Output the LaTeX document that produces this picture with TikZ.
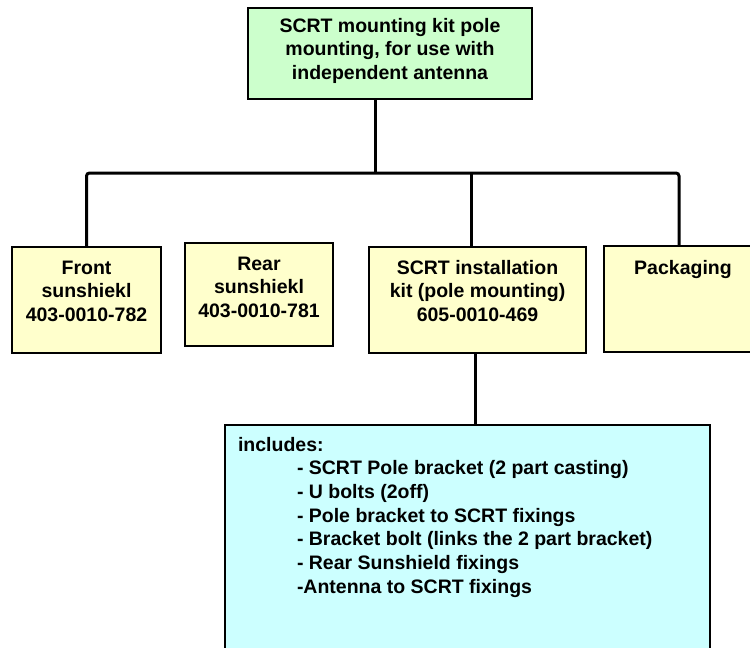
\documentclass[tikz,border=0pt]{standalone}
\usepackage{fontspec}
\setmainfont{Liberation Sans}
\definecolor{boxgreen}{RGB}{204,255,204}
\definecolor{boxyellow}{RGB}{255,255,204}
\definecolor{boxcyan}{RGB}{204,255,255}
\newcommand\cbx[4]{\parbox[t][#2][t]{#1}{\centering\rule{0pt}{#3}#4}}
\tikzset{
  box/.style={draw=black, line width=1.4pt, inner sep=0pt, outer sep=0pt, anchor=north west,
    font=\bfseries\fontsize{19.5}{23.7}\selectfont},
  gbox/.style={box, fill=boxgreen},
  ybox/.style={box, fill=boxyellow},
  cbox/.style={box, fill=boxcyan},
  conn/.style={draw=black, line width=3pt, rounded corners=3pt}
}
\begin{document}
\begin{tikzpicture}
\useasboundingbox (0,0) rectangle (750pt,-648pt);
\node[gbox] (top) at (248pt,-8pt) {\cbx{284pt}{91pt}{24pt}{SCRT mounting kit pole\\mounting, for use with\\independent antenna}};
\node[ybox] (front) at (12pt,-247pt) {\cbx{149pt}{106pt}{27pt}{Front\\sunshiekl\\403-0010-782}};
\node[ybox] (rear) at (185pt,-243pt) {\cbx{148pt}{103pt}{27pt}{Rear\\sunshiekl\\403-0010-781}};
\node[ybox] (kit) at (369pt,-247pt) {\cbx{217pt}{106pt}{27pt}{SCRT installation\\kit (pole mounting)\\605-0010-469}};
\node[ybox] (pack) at (604pt,-246pt) {\cbx{158pt}{106pt}{28pt}{Packaging}};
\node[cbox] (incl) at (225pt,-425pt) {\parbox[t][240pt][t]{485pt}{\raggedright\rule{0pt}{26pt}\hspace*{13pt}includes:\\
\hspace*{72pt}- SCRT Pole bracket (2 part casting)\\
\hspace*{72pt}- U bolts (2off)\\
\hspace*{72pt}- Pole bracket to SCRT fixings\\
\hspace*{72pt}- Bracket bolt (links the 2 part bracket)\\
\hspace*{72pt}- Rear Sunshield fixings\\
\hspace*{72pt}-Antenna to SCRT fixings}};
\coordinate (bus) at (0,-173pt);
\coordinate (ts) at ([xshift=-15pt]top.south);
\coordinate (kn) at ([xshift=-6.5pt]kit.north);
\coordinate (ks) at ([xshift=-2.5pt]kit.south);
\coordinate (pk) at ([xshift=-4pt]pack.north);
\draw[conn] (front.north) |- (bus -| pk) -- (pk);
\draw[conn] (ts) -- (ts |- bus);
\draw[conn] (kn) -- (kn |- bus);
\draw[conn] (ks) -- (ks |- incl.north);
\end{tikzpicture}
\end{document}
